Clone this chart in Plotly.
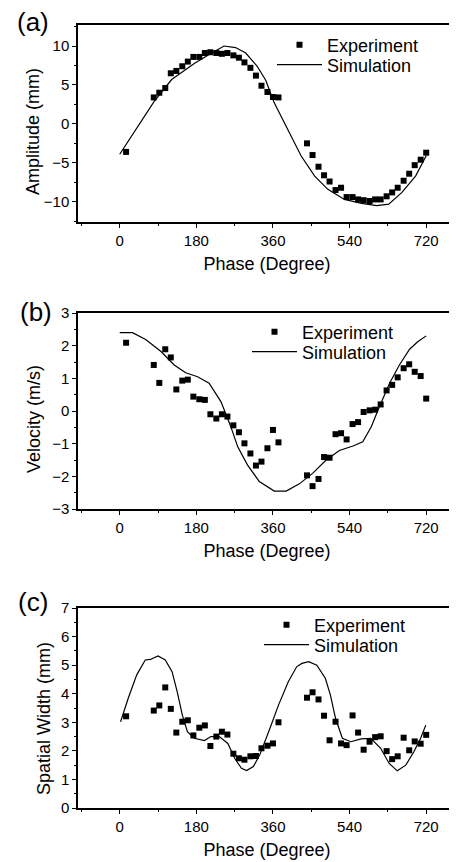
import plotly.graph_objects as go

# ---------------- data ----------------
exp_phase = [15, 80, 93, 107, 120, 133, 147, 160, 173, 187, 200, 213, 227, 240,
             253, 267, 280, 293, 307, 320, 333, 347, 360, 373,
             440, 453, 467, 480, 493, 507, 520, 533, 547, 560, 573, 587, 600,
             613, 627, 640, 653, 667, 680, 693, 707, 720]

amp_exp = [-3.6, 3.4, 4.0, 4.6, 6.5, 6.8, 7.4, 8.0, 8.6, 8.6, 9.1, 9.2, 9.1, 9.0,
           9.1, 8.8, 8.5, 7.9, 7.2, 6.2, 4.9, 4.1, 3.45, 3.4,
           -2.5, -4.0, -5.5, -6.6, -7.4, -8.5, -8.2, -9.4, -9.4, -9.7, -9.8, -9.9, -9.7,
           -9.7, -9.3, -8.8, -8.2, -7.3, -6.4, -5.3, -4.6, -3.7]

vel_exp = [2.09, 1.41, 0.86, 1.89, 1.64, 0.66, 0.93, 0.96, 0.44, 0.36, 0.34, -0.10, -0.23, -0.10,
           -0.17, -0.44, -0.65, -0.99, -1.30, -1.67, -1.55, -1.14, -0.58, -0.96,
           -1.97, -2.30, -2.08, -1.41, -1.43, -0.71, -0.68, -0.87, -0.40, -0.34, -0.03, 0.02, 0.04,
           0.20, 0.63, 0.80, 1.03, 1.31, 1.43, 1.20, 1.07, 0.38]

wid_exp = [3.21, 3.41, 3.59, 4.22, 3.47, 2.64, 3.02, 3.07, 2.54, 2.81, 2.89, 2.17, 2.50, 2.67,
           2.57, 1.90, 1.74, 1.69, 1.81, 1.82, 2.09, 2.18, 2.26, 3.00,
           3.86, 4.05, 3.80, 3.23, 2.37, 3.02, 2.26, 2.20, 3.24, 2.64, 2.04, 2.32, 2.48,
           2.51, 1.99, 1.71, 1.81, 2.46, 2.02, 2.33, 2.25, 2.56]

amp_sim_phase = [0, 40, 81, 122, 176, 216, 245, 272, 296, 323, 343, 363, 395, 426,
                 458, 489, 528, 568, 604, 632, 663, 695, 720]
amp_sim = [-3.9, -0.5, 2.9, 5.7, 7.8, 9.1, 10.0, 9.8, 9.1, 7.4, 5.6, 2.7, -0.7, -4.1,
           -6.7, -8.4, -9.7, -10.2, -10.5, -10.3, -8.8, -6.7, -4.1]

vel_sim_phase = [0, 30, 61, 97, 128, 155, 183, 210, 238, 261, 277, 300, 328, 348, 363, 391,
                 422, 453, 485, 516, 548, 571, 591, 610, 634, 657, 681, 700, 720]
vel_sim = [2.4, 2.4, 2.19, 1.82, 1.41, 1.17, 1.05, 0.85, 0.28, -0.48, -1.09, -1.65, -2.16, -2.32,
           -2.45, -2.45, -2.23, -1.91, -1.50, -1.21, -1.07, -0.94, -0.48, 0.13, 0.85, 1.41, 1.89,
           2.12, 2.3]

wid_sim_phase = [2, 20, 40, 60, 72, 90, 107, 123, 135, 147, 159, 175, 199, 214, 234, 254, 270,
                 286, 298, 314, 329, 345, 353, 373, 396, 416, 428, 444, 463, 483, 495, 507, 523,
                 543, 567, 590, 613, 633, 652, 672, 691, 707, 719]
wid_sim = [3.02, 3.84, 4.66, 5.18, 5.2, 5.32, 5.18, 4.77, 4.07, 3.26, 2.67, 2.44, 2.36, 2.5, 2.5,
           2.26, 1.74, 1.39, 1.31, 1.45, 1.86, 2.44, 2.79, 3.6, 4.42, 4.95, 5.06, 5.12, 5.0, 4.54,
           3.95, 3.14, 2.44, 2.32, 2.42, 2.44, 2.09, 1.56, 1.3, 1.5, 1.97, 2.44, 2.9]

x_ticks = [0, 180, 360, 540, 720]

# ---------------- figure ----------------
OFF = 8                      # default page margin of the html body
W, H = 457 - OFF, 862 - OFF
FONT = "Liberation Sans, Arial, sans-serif"

def px_x(p):
    return (p - OFF) / W

def px_y(p):
    return 1 - (p - OFF) / H

panels = [
    dict(xa="x", ya="y", yax="yaxis", xax="xaxis", top=25, bot=222, yr=[-12.6, 12.7],
         dt=5, mdt=2.5, title="Amplitude (mm)", ys=amp_exp, sx=amp_sim_phase, sy=amp_sim,
         lab="(a)", labx=33, laby=22, legx=272, legy=(45, 65), tx=33, ty=132),
    dict(xa="x2", ya="y2", yax="yaxis2", xax="xaxis2", top=313, bot=509, yr=[-3, 3],
         dt=1, mdt=0.5, title="Velocity (m/s)", ys=vel_exp, sx=vel_sim_phase, sy=vel_sim,
         lab="(b)", labx=36, laby=312, legx=247, legy=(332, 352), tx=34, ty=419),
    dict(xa="x3", ya="y3", yax="yaxis3", xax="xaxis3", top=608, bot=808, yr=[0, 7],
         dt=1, mdt=0.5, title="Spatial Width (mm)", ys=wid_exp, sx=wid_sim_phase, sy=wid_sim,
         lab="(c)", labx=33, laby=602, legx=259, legy=(625, 645), tx=44, ty=719),
]

fig = go.Figure()
layout = dict(width=W, height=H, margin=dict(l=0, r=0, t=0, b=0, autoexpand=False),
              paper_bgcolor="white", plot_bgcolor="white", showlegend=True,
              font=dict(family=FONT, color="black"), annotations=[])

leg_n = 0
for p in panels:
    leg_n += 1
    leg_exp = "legend" if leg_n == 1 else f"legend{2 * leg_n - 1}"
    leg_sim = f"legend{2 * leg_n}"
    fig.add_trace(go.Scatter(x=exp_phase, y=p["ys"], mode="markers", name="Experiment",
                             marker=dict(symbol="square", size=6, color="black"),
                             xaxis=p["xa"], yaxis=p["ya"], legend=leg_exp, showlegend=True))
    fig.add_trace(go.Scatter(x=p["sx"], y=p["sy"], mode="lines", name="Simulation",
                             line=dict(color="black", width=1.2),
                             xaxis=p["xa"], yaxis=p["ya"], legend=leg_sim, showlegend=True))
    common = dict(showline=True, linecolor="black", linewidth=1.5, mirror=True,
                  ticks="outside", ticklen=4, tickwidth=1, tickcolor="black",
                  showgrid=False, zeroline=False, automargin=False,
                  tickfont=dict(family=FONT, size=15, color="black"))
    layout[p["xax"]] = dict(common, domain=[px_x(78), px_x(456)], range=[-98, 790],
                            tickvals=x_ticks, anchor=p["ya"],
                            minor=dict(dtick=90, tick0=0, ticks="outside", ticklen=2.5,
                                       tickcolor="black", showgrid=False),
                            title=dict(text="Phase (Degree)", standoff=10,
                                       font=dict(family=FONT, size=18, color="black")))
    layout[p["yax"]] = dict(common, domain=[px_y(p["bot"]), px_y(p["top"])], range=p["yr"],
                            dtick=p["dt"], tick0=0, anchor=p["xa"],
                            minor=dict(dtick=p["mdt"], ticks="outside", ticklen=2.5,
                                       tickcolor="black", showgrid=False))
    for name, yc in ((leg_exp, p["legy"][0]), (leg_sim, p["legy"][1])):
        layout[name] = dict(x=px_x(p["legx"]), y=px_y(yc), xanchor="left", yanchor="middle",
                            bgcolor="rgba(0,0,0,0)", borderwidth=0, itemwidth=45,
                            font=dict(family=FONT, size=18, color="black"))
    layout["annotations"].append(dict(text=p["lab"], x=px_x(p["labx"]), y=px_y(p["laby"]),
                                      xref="paper", yref="paper", showarrow=False,
                                      xanchor="center", yanchor="middle",
                                      font=dict(family=FONT, size=26, color="black")))
    layout["annotations"].append(dict(text=p["title"], x=px_x(p["tx"]), y=px_y(p["ty"]),
                                      xref="paper", yref="paper", showarrow=False,
                                      textangle=-90, xanchor="center", yanchor="middle",
                                      font=dict(family=FONT, size=18, color="black")))

fig.update_layout(**layout)
fig.write_html("out.html")
